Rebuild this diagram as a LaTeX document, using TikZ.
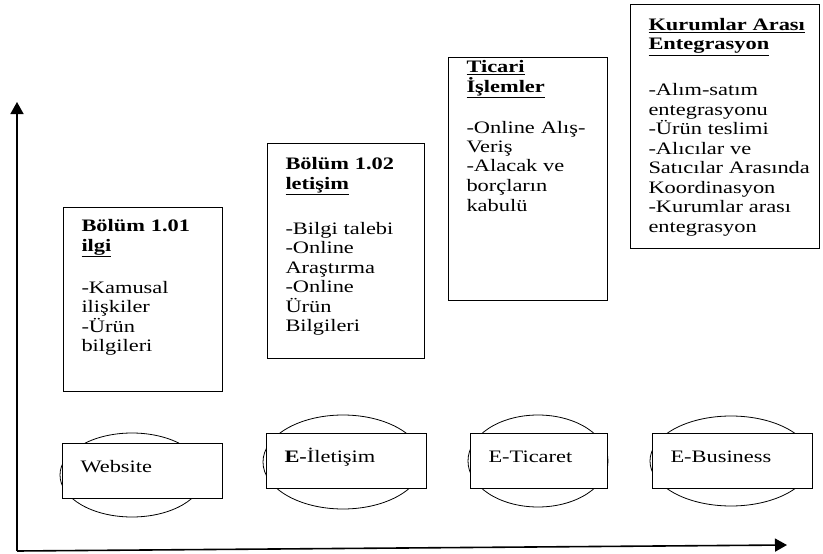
\documentclass[tikz,border=0pt]{standalone}
\usepackage{fontspec}
\setmainfont{Liberation Serif}[FakeStretch=1.28]
\usepackage{tikz}
\usetikzlibrary{shapes.geometric,arrows.meta}

\begin{document}
\begin{tikzpicture}[
    x=1pt, y=-1pt,
    every node/.style={font=\fontsize{17.5}{19.5}\selectfont},
    stage/.style={draw, line width=1pt, anchor=north west, align=left,
                  inner xsep=18pt, inner ysep=0pt},
    oval/.style={draw, ellipse, line width=.8pt, inner sep=0pt},
    tech/.style={draw, fill=white, line width=1pt, anchor=north west, align=left,
                 inner xsep=18pt, inner ysep=0pt, text height=29pt, text depth=26pt},
    axis/.style={line width=1.6pt, -{Triangle[length=12pt,width=13pt]}}]

      \useasboundingbox (0,0) rectangle (823,554);

      % axes
      \coordinate (o) at (17,551);
      \coordinate (ytip) at (17,102);
      \coordinate (xtip) at (787,545);
      \draw[axis] (o) -- (ytip);
      \draw[axis] (o) -- (xtip);

      % stages
      \node[stage, text width=123pt, text height=24pt, text depth=160pt] (ilgi) at (63,207)
        {\textbf{Bölüm 1.01}\\ \textbf{\underline{ilgi}}\\[22.5pt]
         -Kamusal\\ ilişkiler\\ -Ürün\\ bilgileri};

      \node[stage, text width=121pt, text height=26pt, text depth=189pt] (iletisim) at (267,143)
        {\textbf{Bölüm 1.02}\\ \textbf{\underline{letişim}}\\[25.5pt]
         -Bilgi talebi\\ -Online\\ Araştırma\\ -Online\\ Ürün\\ Bilgileri};

      \node[stage, text width=123pt, text height=15pt, text depth=228pt] (islem) at (448,57)
        {\textbf{\underline{Ticari}}\\ \textbf{\underline{İşlemler}}\\[21.5pt]
         -Online Alış-\\ Veriş\\ -Alacak ve\\ borçların\\ kabulü};

      \node[stage, text width=153pt, text height=26pt, text depth=218pt] (entegre) at (630,4)
        {\textbf{\underline{Kurumlar Arası}}\\ \textbf{\underline{Entegrasyon}}\\[26.5pt]
         -Alım-satım\\ entegrasyonu\\ -Ürün teslimi\\ -Alıcılar ve\\
         \mbox{Satıcılar Arasında}\\ Koordinasyon\\ -Kurumlar arası\\ entegrasyon};

      % ovals
      \node[oval, minimum width=144pt, minimum height=84pt] (web-oval) at (132,475) {};
      \node[oval, minimum width=160pt, minimum height=94pt] (eilet-oval) at (343,462) {};
      \node[oval, minimum width=140pt, minimum height=92pt] (etic-oval) at (538,461) {};
      \node[oval, minimum width=162pt, minimum height=90pt] (ebus-oval) at (731,461) {};

      \node[tech, text width=124pt] (web) at (62,443) {Website};
      \node[tech, text width=124pt] (eilet) at (266,433) {\textbf{E-}İletişim};
      \node[tech, text width=101pt] (etic) at (470,433) {E-Ticaret};
      \node[tech, text width=124pt] (ebus) at (652,433) {E-Business};

\end{tikzpicture}
\end{document}
